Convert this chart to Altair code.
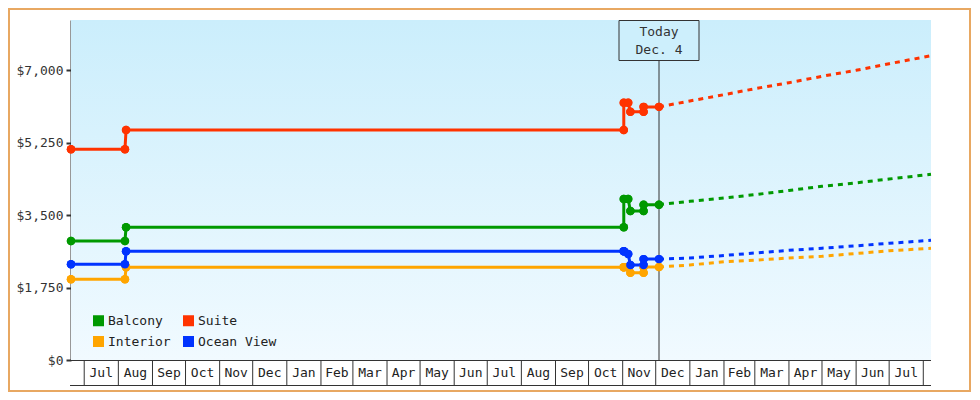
import altair as alt
import pandas as pd

# ---------------- data ----------------
series_names = ["Balcony", "Suite", "Interior", "Ocean View"]
series_colors = ["#009900", "#ff3300", "#ffa500", "#0033ff"]

hist_dates = ["2023-06-19", "2023-08-07", "2023-08-08", "2024-11-02", "2024-11-02",
              "2024-11-06", "2024-11-08", "2024-11-20", "2024-11-20", "2024-12-04"]
hist_balcony = [2872, 2872, 3203, 3203, 3886, 3886, 3597, 3597, 3750, 3750]
hist_suite = [5086, 5086, 5552, 5552, 6210, 6210, 5990, 5990, 6110, 6110]
hist_interior = [1948, 1948, 2240, 2240, 2240, 2240, 2107, 2107, 2245, 2245]
hist_ocean = [2310, 2310, 2624, 2624, 2624, 2560, 2293, 2293, 2435, 2435]

proj_dates = ["2024-12-04", "2025-01-01", "2025-02-01", "2025-03-01", "2025-04-01",
              "2025-05-01", "2025-06-01", "2025-07-01", "2025-08-08"]
proj_balcony = [3750, 3830, 3910, 3991, 4091, 4192, 4276, 4369, 4482]
proj_suite = [6110, 6252, 6404, 6549, 6694, 6848, 6993, 7152, 7345]
proj_interior = [2245, 2293, 2373, 2409, 2462, 2503, 2571, 2636, 2696]
proj_ocean = [2435, 2462, 2522, 2583, 2647, 2699, 2756, 2817, 2889]

month_starts = ["2023-07-01", "2023-08-01", "2023-09-01", "2023-10-01", "2023-11-01",
                "2023-12-01", "2024-01-01", "2024-02-01", "2024-03-01", "2024-04-01",
                "2024-05-01", "2024-06-01", "2024-07-01", "2024-08-01", "2024-09-01",
                "2024-10-01", "2024-11-01", "2024-12-01", "2025-01-01", "2025-02-01",
                "2025-03-01", "2025-04-01", "2025-05-01", "2025-06-01", "2025-07-01",
                "2025-08-01"]
month_labels = ["Jul", "Aug", "Sep", "Oct", "Nov", "Dec", "Jan", "Feb", "Mar", "Apr",
                "May", "Jun", "Jul", "Aug", "Sep", "Oct", "Nov", "Dec", "Jan", "Feb",
                "Mar", "Apr", "May", "Jun", "Jul"]

y_ticks = [0, 1750, 3500, 5250, 7000]
today_date = "2024-12-04"
today_label = "Today\nDec. 4"

# ---------------- tables ----------------
hist_vals = {"Balcony": hist_balcony, "Suite": hist_suite,
             "Interior": hist_interior, "Ocean View": hist_ocean}
proj_vals = {"Balcony": proj_balcony, "Suite": proj_suite,
             "Interior": proj_interior, "Ocean View": proj_ocean}

hist_rows = []
for name, vals in hist_vals.items():
    for i, (d, v) in enumerate(zip(hist_dates, vals)):
        hist_rows.append({"series": name, "date": d, "price": v, "idx": i})
hist_df = pd.DataFrame(hist_rows)

proj_rows = []
for name, vals in proj_vals.items():
    for i, (d, v) in enumerate(zip(proj_dates, vals)):
        proj_rows.append({"series": name, "date": d, "price": v, "idx": i})
proj_df = pd.DataFrame(proj_rows)

ms = pd.to_datetime(pd.Series(month_starts))
a = ms[:-1].reset_index(drop=True)
b = ms[1:].reset_index(drop=True)
mid = a + (b - a) / 2
month_text_df = pd.DataFrame({"mid": mid.dt.strftime("%Y-%m-%dT%H:%M:%SZ"), "label": month_labels})
month_rule_df = pd.DataFrame({"start": month_starts})
today_df = pd.DataFrame({"date": [today_date], "label": [today_label]})
one = pd.DataFrame({"k": [0]})

# ---------------- layout ----------------
W, H = 860, 340
FONT = "DejaVu Sans Mono"
DARK = "#333333"

xscale = alt.Scale(type="utc", domain=[
    alt.DateTime(year=2023, month=6, date=19, utc=True),
    alt.DateTime(year=2025, month=8, date=8, utc=True)])
yscale = alt.Scale(domain=[0, 8207], nice=False, zero=True)
cscale = alt.Scale(domain=series_names, range=series_colors)

gradient = {"gradient": "linear", "x1": 0, "y1": 0, "x2": 0, "y2": 1,
            "stops": [{"offset": 0, "color": "#cbeefc"},
                      {"offset": 1, "color": "#f1faff"}]}

background = alt.Chart(one).mark_rect(fill=gradient).encode(
    x=alt.value(0), x2=alt.value(W), y=alt.value(0), y2=alt.value(H))

border = alt.Chart(one).mark_rect(fill="transparent", stroke="#e8a862", strokeWidth=2).encode(
    x=alt.value(-62), x2=alt.value(W + 39), y=alt.value(-11), y2=alt.value(H + 31))

month_top = alt.Chart(one).mark_rule(color=DARK, strokeWidth=1).encode(
    x=alt.value(0), x2=alt.value(W), y=alt.value(H + 0.5))
month_bottom = alt.Chart(one).mark_rule(color=DARK, strokeWidth=1).encode(
    x=alt.value(-1), x2=alt.value(W), y=alt.value(H + 25.5))
month_rules = alt.Chart(month_rule_df).mark_rule(color=DARK, strokeWidth=1).encode(
    x=alt.X("start:T", scale=xscale, axis=None),
    y=alt.value(H), y2=alt.value(H + 25))
month_text = alt.Chart(month_text_df).mark_text(
    font=FONT, fontSize=13, color="#222222", baseline="middle", align="center").encode(
    x=alt.X("mid:T", scale=xscale, axis=None),
    y=alt.value(H + 13), text="label:N")

today_rule = alt.Chart(today_df).mark_rule(color=DARK, strokeWidth=1).encode(
    x=alt.X("date:T", scale=xscale, axis=None),
    y=alt.value(40.5), y2=alt.value(H))
today_box = alt.Chart(today_df).mark_rect(
    fill="#cdeffc", stroke=DARK, strokeWidth=1, xOffset=-40, x2Offset=40).encode(
    x=alt.X("date:T", scale=xscale, axis=None), x2="date:T",
    y=alt.value(0.5), y2=alt.value(40.5))
today_text = alt.Chart(today_df).mark_text(
    font=FONT, fontSize=13, color=DARK, lineBreak="\n", lineHeight=18,
    baseline="middle", align="center").encode(
    x=alt.X("date:T", scale=xscale, axis=None),
    y=alt.value(12), text="label:N")

y_axis = alt.Axis(values=y_ticks, format="$,.0f", title=None, grid=False,
                  labelFont=FONT, labelFontSize=13, labelColor=DARK,
                  domainColor=DARK, domainWidth=2, tickColor=DARK, tickWidth=2,
                  tickSize=5, labelPadding=3)

legend = alt.Legend(orient="none", legendX=21, legendY=294, columns=2,
                    direction="horizontal",
                    symbolType="square", symbolSize=121, symbolStrokeWidth=0,
                    labelFont=FONT, labelFontSize=13, labelColor="#222222",
                    title=None, columnPadding=11, rowPadding=7, labelOffset=3,
                    padding=0, symbolOpacity=1)

X = alt.X("date:T", scale=xscale, axis=None)
Y = alt.Y("price:Q", scale=yscale, axis=y_axis)
C = alt.Color("series:N", scale=cscale, legend=legend)

hist_points = alt.Chart(hist_df).mark_circle(size=72, opacity=1).encode(
    x=X, y=Y, color=C)

proj_lines = alt.Chart(proj_df).mark_line(strokeWidth=3, strokeDash=[5, 5]).encode(
    x=X, y=Y, color=C, order="idx:Q")

hist_lines = alt.Chart(hist_df).mark_line(strokeWidth=3).encode(
    x=X, y=Y, color=C, order="idx:Q")

chart = alt.layer(
    background, border, month_top, month_rules, month_bottom, month_text,
    today_rule, today_box, today_text, hist_points, proj_lines, hist_lines,
    hist_points
).properties(
    width=W, height=H,
    autosize=alt.AutoSizeParams(type="none"),
    padding={"left": 63, "top": 12, "right": 40, "bottom": 32},
).configure_view(stroke=None)

chart.save("out.html", embed_options={"renderer": "svg", "actions": False})
